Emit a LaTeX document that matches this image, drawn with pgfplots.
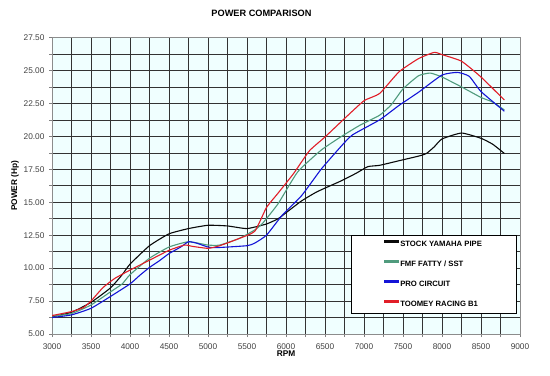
\documentclass[border=0pt]{standalone}
\usepackage{fontspec}
\setmainfont{Liberation Sans}
\usepackage{pgfplots}
\pgfplotsset{compat=1.18}
\definecolor{cstock}{RGB}{10,10,10}
\definecolor{cfmf}{RGB}{80,155,125}
\definecolor{cpro}{RGB}{20,20,215}
\definecolor{ctoo}{RGB}{225,30,40}
\definecolor{bgc}{RGB}{240,255,255}
\begin{document}
\begin{tikzpicture}
\begin{axis}[
  scale only axis, width=468bp, height=296.5bp,
  xmin=3000, xmax=9000, ymin=5, ymax=27.5,
  xtick={3000,3500,...,9000}, ytick={5,7.5,...,27.5},
  minor x tick num=1, minor y tick num=1,
  grid=both,
  major grid style={black!80, line width=0.6bp},
  minor grid style={black!80, line width=0.6bp},
  axis background/.style={fill=bgc},
  axis line style={black!45, line width=0.8bp},
  tick align=outside, xtick pos=left, ytick pos=left,
  major tick length=3bp, minor tick length=3bp,
  tick style={black!50, line width=0.6bp},
  /pgf/number format/assume math mode=true,
  /pgf/number format/set thousands separator={},
  yticklabel={\pgfmathprintnumber[fixed,precision=2,zerofill]{\tick}},
  ticklabel style={font=\fontsize{8.3bp}{10bp}\selectfont, text=black!75},
  xticklabel style={yshift=-3bp},
  yticklabel style={xshift=-1bp},
  title={POWER COMPARISON},
  title style={at={(axis description cs:0.4476,1)}, anchor=center, yshift=18.5bp, font=\fontsize{9.2bp}{11bp}\selectfont\bfseries},
  xlabel={RPM},
  xlabel style={at={(axis description cs:0.5,0)}, anchor=center, yshift=-20bp, font=\fontsize{8.3bp}{10bp}\selectfont\bfseries},
  ylabel={POWER (Hp)},
  ylabel style={at={(axis description cs:0,0.5)}, anchor=center, yshift=37bp, font=\fontsize{8.3bp}{10bp}\selectfont\bfseries},
  legend cell align=left,
  legend style={at={(axis cs:6833,12.54)}, anchor=north west, draw=black, fill=white,
    inner xsep=33bp, inner ysep=5.5bp, row sep=12.3bp,
    font=\fontsize{7.7bp}{9bp}\selectfont\bfseries,
    nodes={inner sep=1bp, text height=5.6bp, text depth=0bp}},
  every axis plot/.append style={line width=1.1bp},
]
\addplot[color=cstock, smooth, tension=0.3, forget plot] coordinates {
(3000,6.3) (3250,6.65) (3500,7.4) (3750,8.5) (3900,9.5) (4000,10.3) (4250,11.7) (4500,12.6) (4750,13.0) (5000,13.25) (5250,13.2) (5500,13.0) (5750,13.35) (5900,13.75) (6000,14.2) (6200,15.1) (6400,15.8) (6700,16.6) (6900,17.2) (7050,17.7) (7200,17.8) (7450,18.15) (7700,18.5) (7800,18.7) (7900,19.2) (8000,19.8) (8250,20.25) (8500,19.85) (8650,19.4) (8800,18.7)
};
\addplot[color=cfmf, smooth, tension=0.3, forget plot] coordinates {
(3000,6.35) (3250,6.55) (3500,7.2) (3750,8.2) (3900,8.8) (4000,9.5) (4250,10.75) (4500,11.6) (4750,12.0) (5000,11.75) (5150,11.75) (5400,12.25) (5600,12.9) (5700,13.4) (5900,14.9) (6150,17.3) (6450,18.95) (6700,19.95) (6950,20.85) (7200,21.6) (7350,22.4) (7500,23.6) (7700,24.6) (7850,24.8) (8000,24.5) (8250,23.75) (8500,22.95) (8650,22.6) (8800,22.0)
};
\addplot[color=cpro, smooth, tension=0.3, forget plot] coordinates {
(3000,6.25) (3250,6.45) (3500,6.95) (3750,7.85) (4000,8.8) (4125,9.45) (4250,10.05) (4375,10.55) (4500,11.1) (4650,11.6) (4750,12.0) (4850,11.9) (5000,11.6) (5100,11.55) (5500,11.7) (5600,11.9) (5750,12.5) (5950,14.0) (6200,15.5) (6450,17.5) (6700,19.2) (6850,20.1) (7200,21.25) (7450,22.35) (7700,23.35) (8000,24.65) (8200,24.85) (8350,24.55) (8500,23.4) (8800,21.9)
};
\addplot[color=ctoo, smooth, tension=0.3, forget plot] coordinates {
(3000,6.4) (3250,6.7) (3400,7.0) (3500,7.5) (3650,8.5) (3800,9.2) (4000,9.85) (4250,10.6) (4500,11.35) (4700,11.75) (4800,11.65) (5000,11.5) (5150,11.7) (5400,12.25) (5600,12.8) (5750,14.6) (5900,15.7) (6100,17.2) (6300,18.9) (6500,19.95) (6750,21.35) (7000,22.7) (7200,23.25) (7450,24.9) (7700,25.9) (7900,26.37) (8000,26.2) (8250,25.7) (8500,24.5) (8800,22.75)
};
\addlegendimage{legend image code/.code={\fill[cstock] (0bp,2.0bp) rectangle (14bp,3.3bp);}}
\addlegendentry{STOCK YAMAHA PIPE}
\addlegendimage{legend image code/.code={\fill[cfmf] (0bp,2.0bp) rectangle (14bp,3.3bp);}}
\addlegendentry{FMF FATTY / SST}
\addlegendimage{legend image code/.code={\fill[cpro] (0bp,2.0bp) rectangle (14bp,3.3bp);}}
\addlegendentry{PRO CIRCUIT}
\addlegendimage{legend image code/.code={\fill[ctoo] (0bp,2.0bp) rectangle (14bp,3.3bp);}}
\addlegendentry{TOOMEY RACING B1}
\end{axis}
\pgfresetboundingbox
\useasboundingbox (-52bp,-42bp) rectangle (498bp,334bp);
\end{tikzpicture}
\end{document}
